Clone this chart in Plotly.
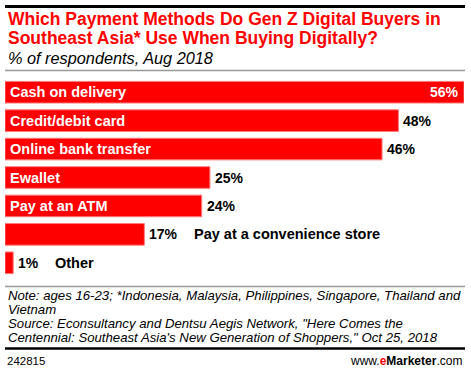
import plotly.graph_objects as go

categories = ["Cash on delivery", "Credit/debit card", "Online bank transfer", "Ewallet",
              "Pay at an ATM", "Pay at a convenience store", "Other"]
values = [56, 48, 46, 25, 24, 17, 1]
value_labels = ["56%", "48%", "46%", "25%", "24%", "17%", "1%"]
inside_label = [True, True, True, True, True, False, False]

title_lines = ["Which Payment Methods Do Gen Z Digital Buyers in",
               "Southeast Asia* Use When Buying Digitally?"]
subtitle = "% of respondents, Aug 2018"
note_lines = ["Note: ages 16-23; *Indonesia, Malaysia, Philippines, Singapore, Thailand and",
              "Vietnam",
              "Source: Econsultancy and Dentsu Aegis Network, \"Here Comes the",
              "Centennial: Southeast Asia's New Generation of Shoppers,\" Oct 25, 2018"]

W, H = 471, 371
PLOT_L, PLOT_R, PLOT_T, PLOT_B = 5, 464, 78, 277

def py(p):
    return (H - p) / H

def px(p):
    return p / W

RED = "#ff0000"
SANS = "Liberation Sans, Arial, sans-serif"

fig = go.Figure()
fig.add_trace(go.Bar(
    x=values, y=categories, orientation="h",
    marker=dict(color=RED, line=dict(color="#ff7a7a", width=1)),
    width=0.76, hoverinfo="skip",
))

ann = []
for cat, v, lab, inside in zip(categories, values, value_labels, inside_label):
    if v == max(values):
        ann.append(dict(x=v, y=cat, text="<b>%s</b>" % lab, xanchor="right", xshift=-3,
                        showarrow=False, font=dict(family=SANS, size=14, color="white")))
    else:
        ann.append(dict(x=v, y=cat, text="<b>%s</b>" % lab, xanchor="left", xshift=3,
                        showarrow=False, font=dict(family=SANS, size=14, color="black")))
    if inside:
        ann.append(dict(x=0, y=cat, text="<b>%s</b>" % cat, xanchor="left", xshift=3,
                        showarrow=False, font=dict(family=SANS, size=14.5, color="white")))
    else:
        est_w = len(lab) * 8.7
        ann.append(dict(x=v, y=cat, text="<b>%s</b>" % cat, xanchor="left",
                        xshift=3 + est_w + 19,
                        showarrow=False, font=dict(family=SANS, size=14.5, color="black")))

for i, line in enumerate(title_lines):
    ann.append(dict(xref="paper", yref="paper", x=px(6), y=py(19 + 19 * i), xanchor="left",
                    yanchor="middle", text="<b>%s</b>" % line, showarrow=False,
                    font=dict(family=SANS, size=17.5, color=RED)))
ann.append(dict(xref="paper", yref="paper", x=px(6), y=py(58), xanchor="left", yanchor="middle",
                text="<i>%s</i>" % subtitle, showarrow=False,
                font=dict(family=SANS, size=16.3, color="black")))
for i, line in enumerate(note_lines):
    ann.append(dict(xref="paper", yref="paper", x=px(6), y=py(295.5 + 14 * i), xanchor="left",
                    yanchor="middle", text="<i>%s</i>" % line, showarrow=False,
                    font=dict(family=SANS, size=13.2, color="black")))
ann.append(dict(xref="paper", yref="paper", x=px(5), y=py(361), xanchor="left", yanchor="middle",
                text="242815", showarrow=False,
                font=dict(family=SANS, size=11.5, color="black")))
ann.append(dict(xref="paper", yref="paper", x=px(464), y=py(361), xanchor="right", yanchor="middle",
                text="www.<b><span style='color:#ff0000'>e</span>Marketer</b>.com", showarrow=False,
                font=dict(family=SANS, size=12, color="black")))

# rule lines as thin filled rectangles: (y in px, colour, thickness)
rules = [(6.5, "#000000", 3), (70.5, "#999999", 1.5), (286.5, "#999999", 1.5), (348.5, "#000000", 2.5)]
shapes = [dict(type="rect", xref="paper", yref="paper", x0=px(5), x1=px(465),
               y0=py(ry - rw / 2), y1=py(ry + rw / 2), fillcolor=rc, line=dict(width=0),
               layer="above")
          for ry, rc, rw in rules]

fig.update_layout(
    width=W, height=H,
    margin=dict(l=0, r=0, t=0, b=0),
    paper_bgcolor="white", plot_bgcolor="rgba(0,0,0,0)",
    showlegend=False,
    xaxis=dict(range=[0, 56], showticklabels=False, showgrid=False, zeroline=False,
               showline=False, ticks="", fixedrange=True, domain=[px(PLOT_L), px(PLOT_R)]),
    yaxis=dict(autorange="reversed", showticklabels=False, showgrid=False, zeroline=False,
               showline=False, ticks="", fixedrange=True, domain=[py(PLOT_B), py(PLOT_T)]),
    annotations=ann, shapes=shapes,
)

fig.write_html("out.html", config={"displayModeBar": False},
               post_script="document.body.style.margin='0';document.body.style.overflow='hidden';")
